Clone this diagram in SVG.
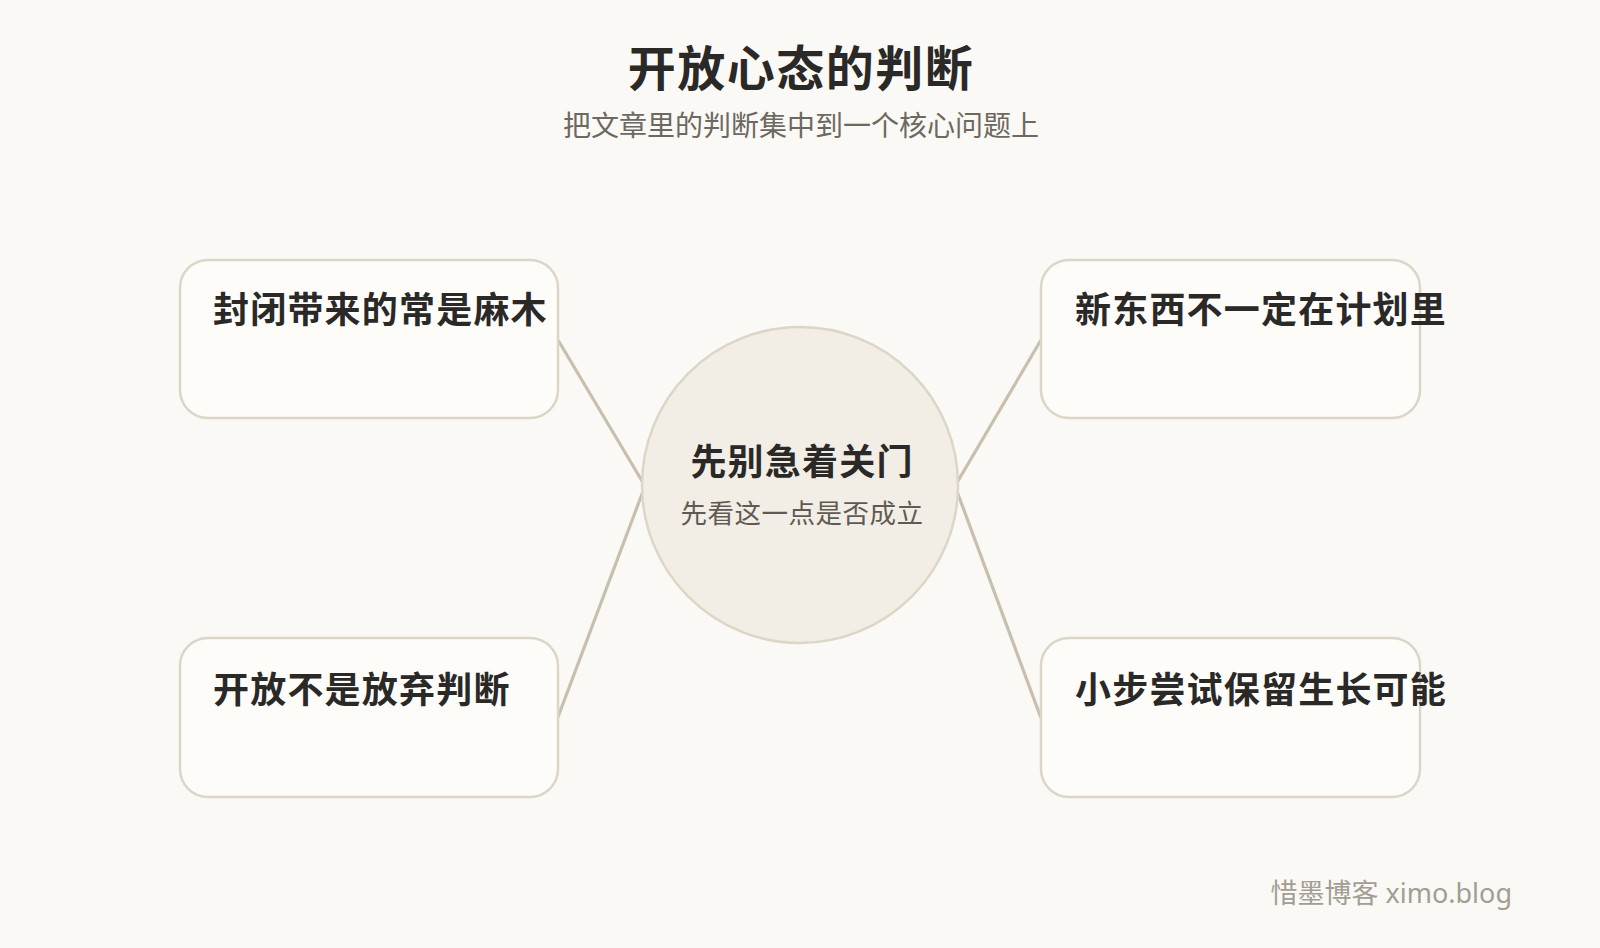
<svg xmlns="http://www.w3.org/2000/svg" width="1600" height="948" viewBox="0 0 1600 948">
<style>
text{font-family:"Noto Sans CJK SC","Noto Sans",sans-serif}
.title{font-size:48px;font-weight:700;fill:#2a2927;letter-spacing:1.5px}
.sub{font-size:28px;fill:#6d6860}
.card{fill:#fdfcf9;stroke:#ddd5c5;stroke-width:2.5}
.ct{font-size:36px;font-weight:700;fill:#2a2927;letter-spacing:1.2px}
.conn{stroke:#c8bfae;stroke-width:3.2;fill:none}
.foot{font-size:27px;fill:#a39d93;font-family:"Noto Sans","Noto Sans CJK SC",sans-serif}
</style>
<rect width="1600" height="948" fill="#faf9f6"/>
<g id="header">
<text class="title" x="801" y="86" text-anchor="middle">开放心态的判断</text>
<text class="sub" x="801" y="136" text-anchor="middle">把文章里的判断集中到一个核心问题上</text>
</g>
<g id="connectors">
<line class="conn" x1="558" y1="340" x2="645" y2="486"/>
<line class="conn" x1="558" y1="717" x2="645" y2="486"/>
<line class="conn" x1="1041" y1="340" x2="955" y2="486"/>
<line class="conn" x1="1041" y1="718" x2="955" y2="486"/>
</g>
<g id="center">
<circle cx="800" cy="485" r="158" fill="#f2eee6" stroke="#ddd5c5" stroke-width="2.5"/>
<text class="ct" x="802" y="475" text-anchor="middle">先别急着关门</text>
<text x="802" y="523" text-anchor="middle" font-size="26.5" fill="#5f5a53" letter-spacing="0.5">先看这一点是否成立</text>
</g>
<g id="node-tl">
<rect class="card" x="180" y="260" width="378" height="158" rx="28"/>
<text class="ct" x="213" y="323">封闭带来的常是麻木</text>
</g>
<g id="node-bl">
<rect class="card" x="180" y="638" width="378" height="159" rx="28"/>
<text class="ct" x="213" y="703">开放不是放弃判断</text>
</g>
<g id="node-tr">
<rect class="card" x="1041" y="260" width="379" height="158" rx="28"/>
<text class="ct" x="1075" y="323">新东西不一定在计划里</text>
</g>
<g id="node-br">
<rect class="card" x="1041" y="638" width="379" height="159" rx="28"/>
<text class="ct" x="1075" y="703">小步尝试保留生长可能</text>
</g>
<g id="footer">
<text class="foot" x="1512" y="903" text-anchor="end">惜墨博客 ximo.blog</text>
</g>
</svg>
